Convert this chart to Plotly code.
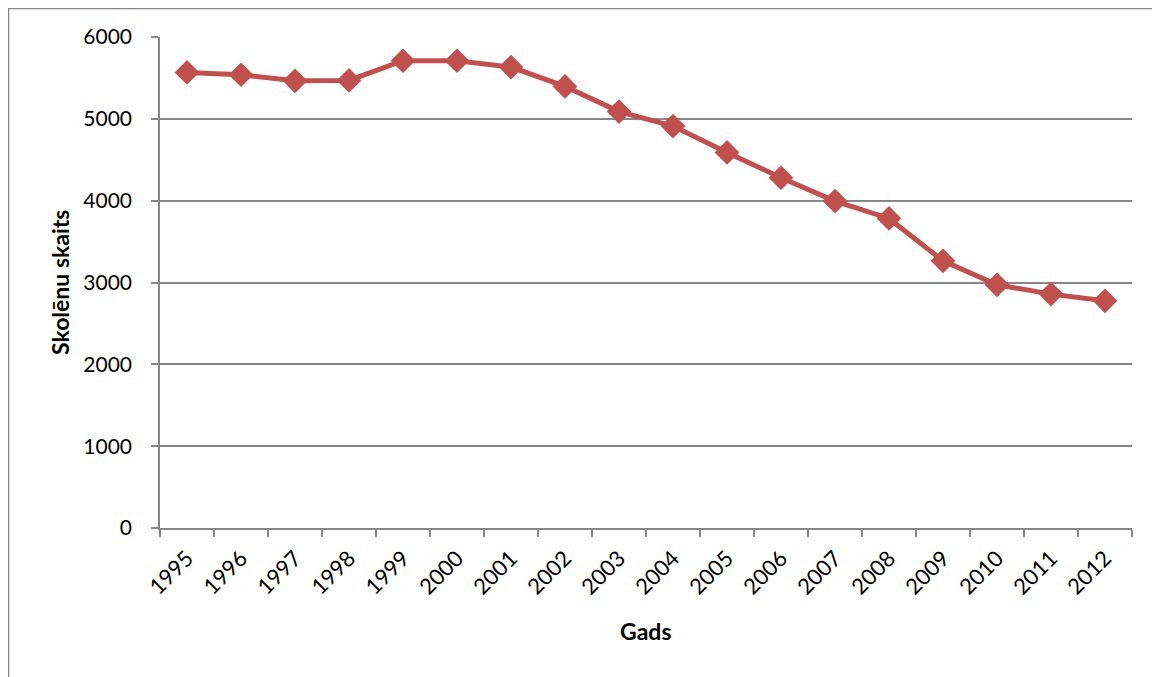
import plotly.graph_objects as go

years = [str(y) for y in range(1995, 2013)]
students = [5567, 5539, 5465, 5469, 5710, 5710, 5633, 5396, 5089,
            4912, 4590, 4280, 3995, 3783, 3265, 2972, 2858, 2776]
y_ticks = [0, 1000, 2000, 3000, 4000, 5000, 6000]

# page has an 8px body margin; positions below are in screen pixels
OFF = 8
W, H = 1160, 677
L, T = 160 - OFF, 37 - OFF
pw, ph = 972, 491
R = W - L - pw
B = H - T - ph

def px_x(p):
    return (p - OFF - L) / pw

def px_y(p):
    return (T + ph - (p - OFF)) / ph

FONT = "Lato, Calibri, 'Open Sans', sans-serif"
GRAY = "#868686"

fig = go.Figure()
fig.add_trace(go.Scatter(
    x=years, y=students, mode="lines+markers",
    line=dict(color="#C0504D", width=5),
    marker=dict(symbol="diamond", size=19, color="#C0504D"),
    showlegend=False,
))

fig.update_layout(
    width=W, height=H,
    margin=dict(l=L, r=R, t=T, b=B),
    paper_bgcolor="white", plot_bgcolor="white",
    font=dict(family=FONT, size=21, color="black"),
    xaxis=dict(
        type="category", tickson="boundaries", ticks="outside", ticklen=7,
        tickcolor=GRAY, tickwidth=1.5, showline=True, linecolor=GRAY, linewidth=1.5,
        showgrid=False, tickangle=-45, tickfont=dict(size=22),
        range=[-0.5, len(years) - 0.5], ticklabelstandoff=7,
    ),
    yaxis=dict(
        range=[0, 6000], tickvals=y_ticks, ticks="outside", ticklen=7,
        tickcolor=GRAY, tickwidth=1.5, showline=True, linecolor=GRAY, linewidth=1.5,
        showgrid=True, gridcolor=GRAY, gridwidth=1.5, zeroline=False,
        tickfont=dict(size=21), ticklabelstandoff=15,
    ),
    annotations=[
        dict(text="<b>Skolēnu skaits</b>", xref="paper", yref="paper",
             x=px_x(60), y=px_y(283), textangle=-90, showarrow=False,
             xanchor="center", yanchor="middle",
             font=dict(family=FONT, size=23)),
        dict(text="<b>Gads</b>", xref="paper", yref="paper",
             x=px_x(646), y=px_y(631), showarrow=False,
             xanchor="center", yanchor="middle",
             font=dict(family=FONT, size=23)),
    ],
    shapes=[
        dict(type="rect", xref="paper", yref="paper",
             x0=px_x(8.5), y0=px_y(720), x1=px_x(1220), y1=px_y(8.5),
             line=dict(color=GRAY, width=1.5), layer="below"),
    ],
)

fig.write_html("out.html")
